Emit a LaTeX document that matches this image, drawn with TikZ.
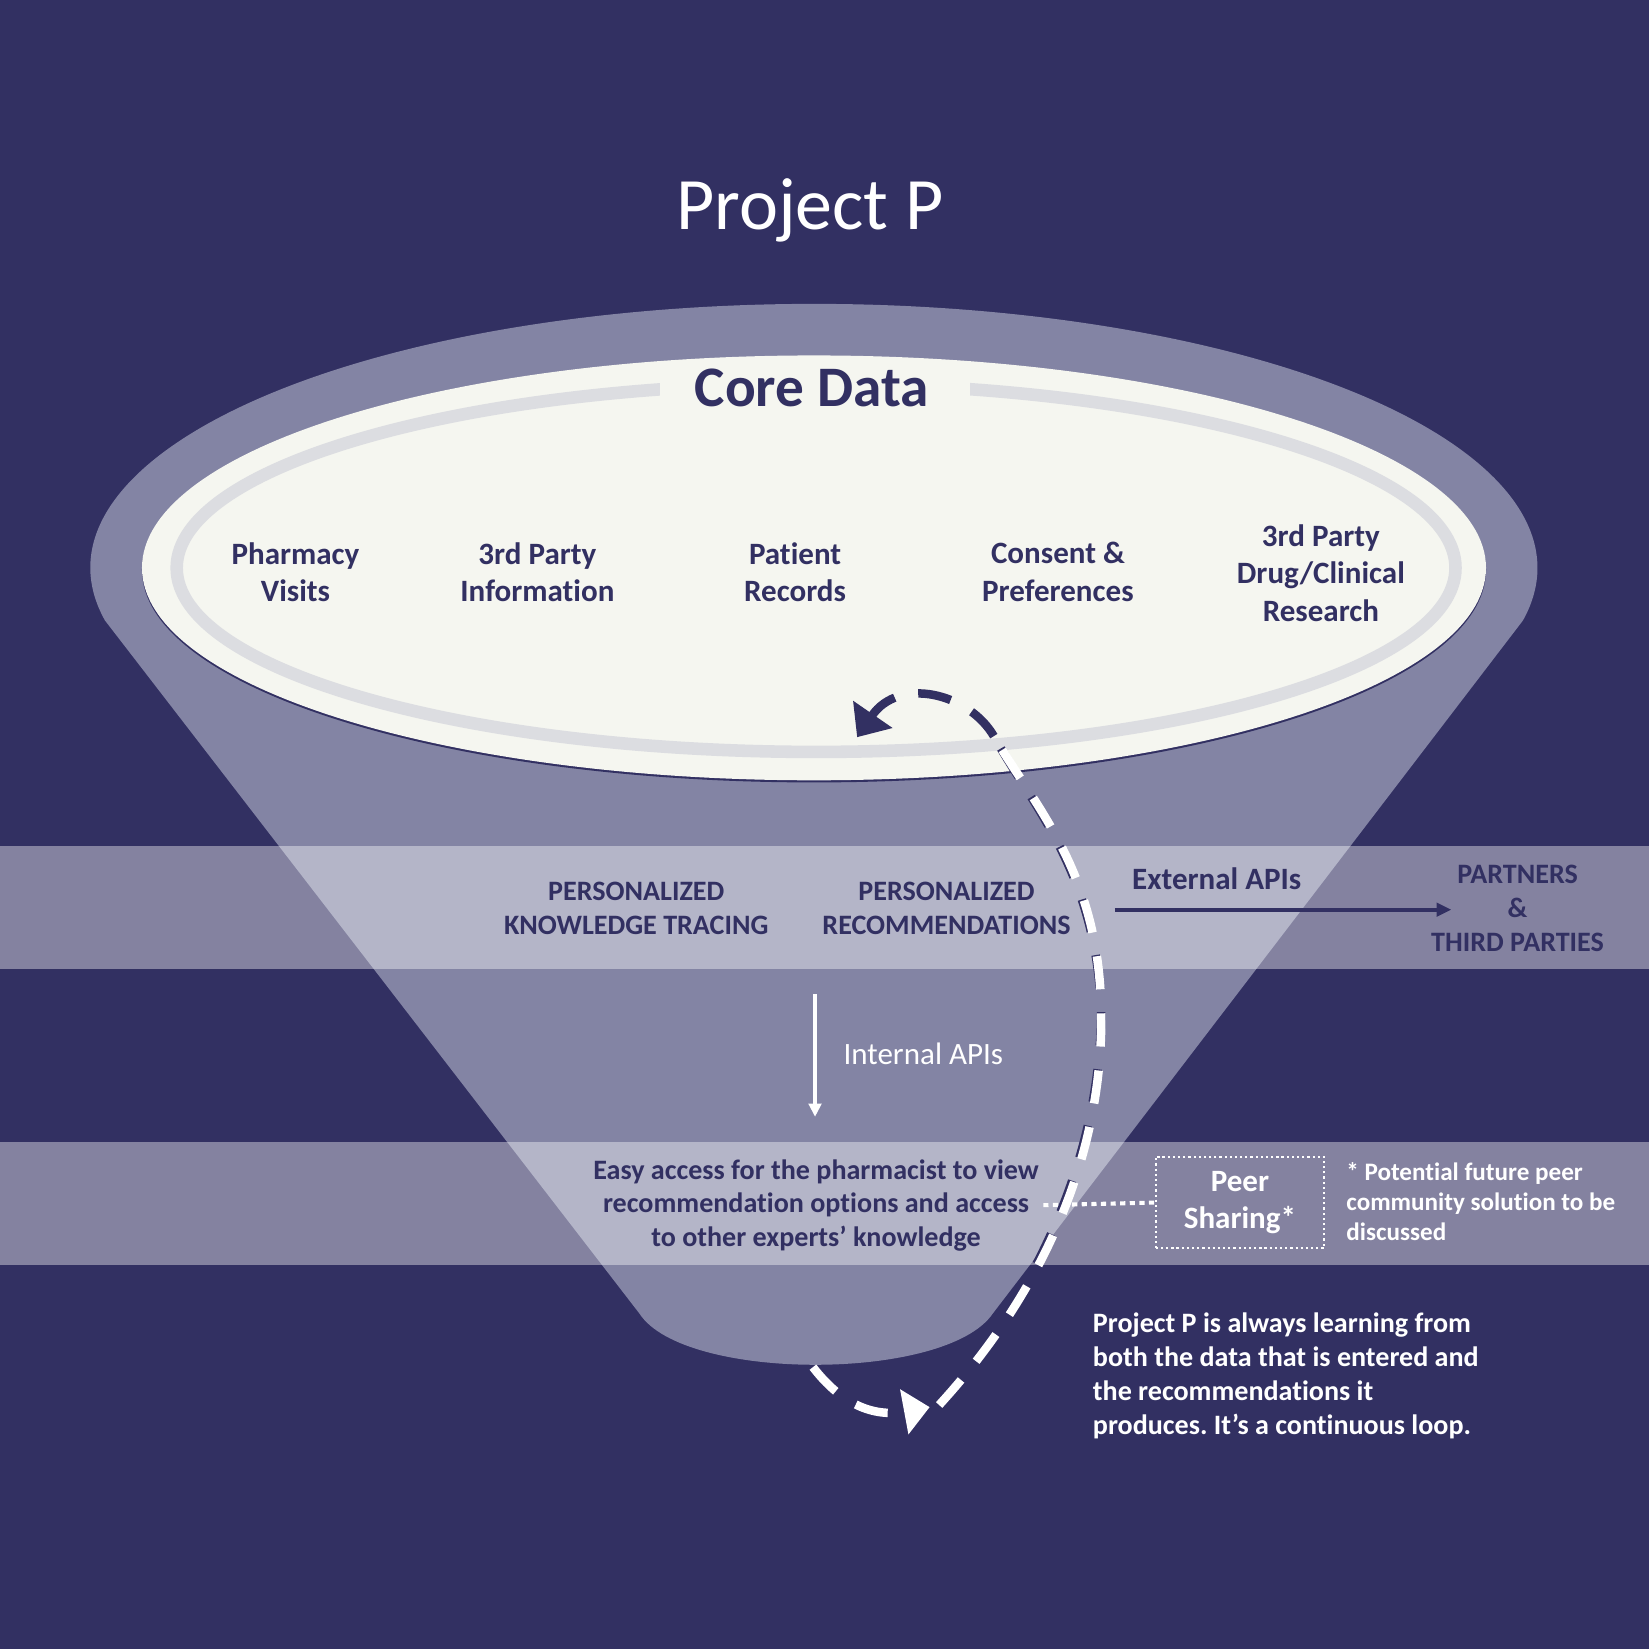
\documentclass[tikz,border=0pt]{standalone}
\usepackage{fontspec}
\setmainfont{Carlito}[Ligatures=NoCommon]
\usetikzlibrary{arrows.meta}
\definecolor{navy}{RGB}{50,48,98}
\definecolor{funnel}{RGB}{131,132,164}
\definecolor{paper}{RGB}{245,246,240}
\definecolor{ring}{RGB}{220,221,225}
\tikzset{
	coltext/.style={font=\fontsize{8.4}{10.2}\selectfont\bfseries, text=navy, align=center, inner sep=1pt},
	bandtext/.style={font=\fontsize{7.6}{9.25}\selectfont\bfseries, text=navy, align=center, inner sep=1pt},
	notetext/.style={font=\fontsize{7.6}{9.2}\selectfont\bfseries, text=white, align=left, inner sep=1pt},
	band/.style={fill=white, fill opacity=0.4},
	loopline/.style={line width=2.3pt, dash pattern=on 9pt off 6.5pt},
}
\frenchspacing

\begin{document}
\begin{tikzpicture}
			%%%%% START %%%%%
			
			\fill[navy] (0, 0) rectangle (15.68, 15.68);
			\node[font=\fontsize{20}{24}\selectfont, text=white, anchor=base] (title) at (7.70, 13.50) {Project P};
			
			% funnel
			\fill[funnel] (0.998, 9.78) arc[start angle=191.5, end angle=-11.5, x radius=6.88, y radius=2.51] -- (9.44, 3.19) .. controls (9.0, 2.54) and (6.5, 2.54) .. (6.08, 3.19) -- cycle;
			
			% core data dish
			\fill[navy] (7.74, 10.26) ellipse[x radius=6.39, y radius=2.02];
			\fill[paper] (7.74, 10.28) ellipse[x radius=6.39, y radius=2.02];
			\draw[ring, line width=3.4pt] (7.76, 10.28) ellipse[x radius=6.08, y radius=1.75];
			\fill[paper] (6.28, 11.55) rectangle (9.22, 12.18);
			\node[font=\fontsize{15.5}{18}\selectfont\bfseries, text=navy] (core) at (7.72, 11.99) {Core Data};
			
			\node[coltext] (pharmacy) at (2.81, 10.24) {Pharmacy\\Visits};
			\node[coltext] (thirdinfo) at (5.11, 10.24) {3rd Party\\Information};
			\node[coltext] (patient) at (7.56, 10.24) {Patient\\Records};
			\node[coltext] (consent) at (10.06, 10.24) {Consent \&\\Preferences};
			\node[coltext] (research) at (12.56, 10.23) {3rd Party\\Drug/Clinical\\Research};
			
			% bands
			\fill[band] (0, 6.47) rectangle (15.68, 7.64);
			\fill[band] (0, 3.65) rectangle (15.68, 4.82);
			
			\node[bandtext] (tracing) at (6.05, 7.04) {PERSONALIZED\\KNOWLEDGE TRACING};
			\node[bandtext] (recommend) at (9.00, 7.04) {PERSONALIZED\\RECOMMENDATIONS};
			\node[font=\fontsize{8.4}{10}\selectfont\bfseries, text=navy] (external) at (11.57, 7.32) {External APIs};
			\node[bandtext] (partners) at (14.43, 7.04) {PARTNERS\\\&\\THIRD PARTIES};
			\coordinate (extstart) at (10.60, 7.03);
			\coordinate (extend) at (13.80, 7.03);
			\draw[navy, line width=1.1pt, -{Triangle[length=4pt,width=3.6pt]}] (extstart) -- (extend);
			
			\coordinate (intstart) at (7.75, 6.23);
			\coordinate (intend) at (7.75, 5.06);
			\draw[white, line width=0.9pt, -{Triangle[length=3.6pt,width=3.4pt]}] (intstart) -- (intend);
			\node[font=\fontsize{8.4}{10}\selectfont, text=white] (internal) at (8.78, 5.66) {Internal APIs};
			
			\node[bandtext, font=\fontsize{7.6}{9.1}\selectfont\bfseries] (access) at (7.76, 4.22) {Easy access for the pharmacist to view\\recommendation options and access\\to other experts’ knowledge};
			\node[draw=white, line width=0.6pt, dash pattern=on 0.6pt off 0.8pt, minimum width=1.6cm, minimum height=0.87cm, font=\fontsize{8.4}{10.2}\selectfont\bfseries, text=white, align=center] (peer) at (11.79, 4.245) {Peer\\Sharing*};
			\draw[white, line width=1.1pt, dash pattern=on 1.4pt off 1.2pt] (access.east) -- (peer.west);
			\node[notetext, font=\fontsize{6.8}{8.1}\selectfont\bfseries, anchor=west] (peernote) at (12.76, 4.25) {* Potential future peer\\community solution to be\\discussed};
			\node[notetext, anchor=west] (loopnote) at (10.35, 2.60) {Project P is always learning from\\both the data that is entered and\\the recommendations it\\produces. It’s a continuous loop.};
			
			% the loop
			\coordinate (loopa) at (7.73, 2.68);
			\coordinate (loopb) at (8.84, 2.30);
			\coordinate (loopc) at (8.93, 2.32);
			\coordinate (loopd) at (10.47, 6.08);
			\coordinate (loope) at (9.45, 8.68);
			\coordinate (loopf) at (8.15, 8.67);
			\draw[white, loopline, -{Triangle[length=7pt,width=12pt]}] (loopa) .. controls (8.00, 2.33) and (8.30, 2.20) .. (loopb);
			\draw[navy, loopline, shift={(-0.03, 0.01)}] (loopc) .. controls (9.90, 3.38) and (10.50, 4.68) .. (loopd) .. controls (10.45, 7.38) and (9.85, 8.00) .. (loope);
			\draw[white, loopline] (loopc) .. controls (9.90, 3.38) and (10.50, 4.68) .. (loopd) .. controls (10.45, 7.38) and (9.85, 8.00) .. (loope);
			\draw[navy, loopline, -{Triangle[length=7.5pt,width=12.5pt]}] (loope) .. controls (9.21, 9.09) and (8.55, 9.25) .. (loopf);
			
			%%%%% END %%%%%
\end{tikzpicture}
\end{document}
